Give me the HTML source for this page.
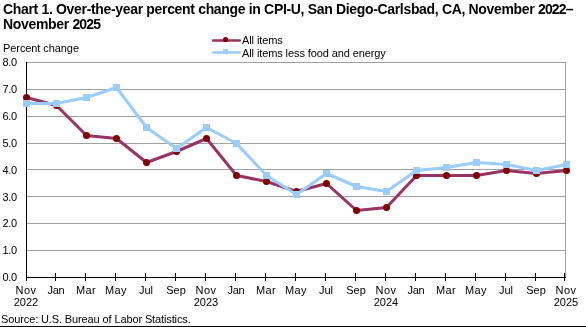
<!DOCTYPE html>
<html><head><meta charset="utf-8"><style>
html,body{margin:0;padding:0;background:#fff;}
body{width:586px;height:327px;overflow:hidden;position:relative;font-family:"Liberation Sans",sans-serif;}
.t{position:absolute;left:3px;top:2px;font-weight:bold;font-size:14px;line-height:15px;color:#000;white-space:nowrap;letter-spacing:-0.33px;will-change:transform;}
span.d{letter-spacing:-0.85px;}
svg{position:absolute;left:0;top:0;will-change:transform;}
</style></head><body>
<svg width="586" height="327" viewBox="0 0 586 327" font-family="Liberation Sans, sans-serif">

<rect x="27" y="250" width="539" height="1" fill="#a0a0a0"/>
<rect x="27" y="223" width="539" height="1" fill="#a0a0a0"/>
<rect x="27" y="196" width="539" height="1" fill="#a0a0a0"/>
<rect x="27" y="169" width="539" height="1" fill="#a0a0a0"/>
<rect x="27" y="143" width="539" height="1" fill="#a0a0a0"/>
<rect x="27" y="116" width="539" height="1" fill="#a0a0a0"/>
<rect x="27" y="89" width="539" height="1" fill="#a0a0a0"/>
<rect x="27" y="62" width="539" height="1" fill="#a0a0a0"/>
<rect x="565" y="62" width="1" height="215" fill="#a0a0a0"/>
<rect x="26" y="62" width="1" height="219" fill="#000"/>
<rect x="26" y="277" width="540" height="1" fill="#000"/>
<rect x="26" y="273" width="1" height="8" fill="#000"/>
<rect x="55" y="273" width="1" height="8" fill="#000"/>
<rect x="85" y="273" width="1" height="8" fill="#000"/>
<rect x="115" y="273" width="1" height="8" fill="#000"/>
<rect x="145" y="273" width="1" height="8" fill="#000"/>
<rect x="175" y="273" width="1" height="8" fill="#000"/>
<rect x="205" y="273" width="1" height="8" fill="#000"/>
<rect x="235" y="273" width="1" height="8" fill="#000"/>
<rect x="265" y="273" width="1" height="8" fill="#000"/>
<rect x="295" y="273" width="1" height="8" fill="#000"/>
<rect x="325" y="273" width="1" height="8" fill="#000"/>
<rect x="355" y="273" width="1" height="8" fill="#000"/>
<rect x="385" y="273" width="1" height="8" fill="#000"/>
<rect x="415" y="273" width="1" height="8" fill="#000"/>
<rect x="445" y="273" width="1" height="8" fill="#000"/>
<rect x="475" y="273" width="1" height="8" fill="#000"/>
<rect x="505" y="273" width="1" height="8" fill="#000"/>
<rect x="535" y="273" width="1" height="8" fill="#000"/>
<rect x="564" y="273" width="1" height="8" fill="#000"/>
<text x="16.8" y="281.20" font-size="11" text-anchor="end" letter-spacing="-0.3">0.0</text>
<text x="16.8" y="254.32" font-size="11" text-anchor="end" letter-spacing="-0.3">1.0</text>
<text x="16.8" y="227.45" font-size="11" text-anchor="end" letter-spacing="-0.3">2.0</text>
<text x="16.8" y="200.57" font-size="11" text-anchor="end" letter-spacing="-0.3">3.0</text>
<text x="16.8" y="173.70" font-size="11" text-anchor="end" letter-spacing="-0.3">4.0</text>
<text x="16.8" y="146.82" font-size="11" text-anchor="end" letter-spacing="-0.3">5.0</text>
<text x="16.8" y="119.95" font-size="11" text-anchor="end" letter-spacing="-0.3">6.0</text>
<text x="16.8" y="93.08" font-size="11" text-anchor="end" letter-spacing="-0.3">7.0</text>
<text x="16.8" y="66.20" font-size="11" text-anchor="end" letter-spacing="-0.3">8.0</text>
<text x="26.0" y="293.8" font-size="11" text-anchor="middle" letter-spacing="0.4">Nov</text>
<text x="56.0" y="293.8" font-size="11" text-anchor="middle" letter-spacing="-0.3">Jan</text>
<text x="86.0" y="293.8" font-size="11" text-anchor="middle" letter-spacing="0.4">Mar</text>
<text x="116.0" y="293.8" font-size="11" text-anchor="middle" letter-spacing="0.4">May</text>
<text x="146.0" y="293.8" font-size="11" text-anchor="middle">Jul</text>
<text x="176.0" y="293.8" font-size="11" text-anchor="middle">Sep</text>
<text x="206.0" y="293.8" font-size="11" text-anchor="middle" letter-spacing="0.4">Nov</text>
<text x="236.0" y="293.8" font-size="11" text-anchor="middle" letter-spacing="-0.3">Jan</text>
<text x="266.0" y="293.8" font-size="11" text-anchor="middle" letter-spacing="0.4">Mar</text>
<text x="296.0" y="293.8" font-size="11" text-anchor="middle" letter-spacing="0.4">May</text>
<text x="326.0" y="293.8" font-size="11" text-anchor="middle">Jul</text>
<text x="356.0" y="293.8" font-size="11" text-anchor="middle">Sep</text>
<text x="386.0" y="293.8" font-size="11" text-anchor="middle" letter-spacing="0.4">Nov</text>
<text x="416.0" y="293.8" font-size="11" text-anchor="middle" letter-spacing="-0.3">Jan</text>
<text x="446.0" y="293.8" font-size="11" text-anchor="middle" letter-spacing="0.4">Mar</text>
<text x="476.0" y="293.8" font-size="11" text-anchor="middle" letter-spacing="0.4">May</text>
<text x="506.0" y="293.8" font-size="11" text-anchor="middle">Jul</text>
<text x="536.0" y="293.8" font-size="11" text-anchor="middle">Sep</text>
<text x="566.0" y="293.8" font-size="11" text-anchor="middle" letter-spacing="0.4">Nov</text>
<text x="26.0" y="305.6" font-size="11" text-anchor="middle">2022</text>
<text x="206.0" y="305.6" font-size="11" text-anchor="middle">2023</text>
<text x="386.0" y="305.6" font-size="11" text-anchor="middle">2024</text>
<text x="566.0" y="305.6" font-size="11" text-anchor="middle">2025</text>
<text x="3" y="52" font-size="11" letter-spacing="-0.08">Percent change</text>
<polyline points="26.50,97.50 56.50,105.50 86.50,135.50 116.50,138.50 146.50,162.50 176.50,151.50 206.50,138.50 236.50,175.50 266.50,181.50 296.50,191.50 326.50,183.50 356.50,210.50 386.50,207.50 416.50,175.50 446.50,175.50 476.50,175.50 506.50,170.50 536.50,173.50 566.50,170.50" fill="none" stroke="#993366" stroke-width="3" stroke-linejoin="round"/>
<circle cx="26.50" cy="97.50" r="3.5" fill="#800000"/>
<circle cx="56.50" cy="105.50" r="3.5" fill="#800000"/>
<circle cx="86.50" cy="135.50" r="3.5" fill="#800000"/>
<circle cx="116.50" cy="138.50" r="3.5" fill="#800000"/>
<circle cx="146.50" cy="162.50" r="3.5" fill="#800000"/>
<circle cx="176.50" cy="151.50" r="3.5" fill="#800000"/>
<circle cx="206.50" cy="138.50" r="3.5" fill="#800000"/>
<circle cx="236.50" cy="175.50" r="3.5" fill="#800000"/>
<circle cx="266.50" cy="181.50" r="3.5" fill="#800000"/>
<circle cx="296.50" cy="191.50" r="3.5" fill="#800000"/>
<circle cx="326.50" cy="183.50" r="3.5" fill="#800000"/>
<circle cx="356.50" cy="210.50" r="3.5" fill="#800000"/>
<circle cx="386.50" cy="207.50" r="3.5" fill="#800000"/>
<circle cx="416.50" cy="175.50" r="3.5" fill="#800000"/>
<circle cx="446.50" cy="175.50" r="3.5" fill="#800000"/>
<circle cx="476.50" cy="175.50" r="3.5" fill="#800000"/>
<circle cx="506.50" cy="170.50" r="3.5" fill="#800000"/>
<circle cx="536.50" cy="173.50" r="3.5" fill="#800000"/>
<circle cx="566.50" cy="170.50" r="3.5" fill="#800000"/>
<polyline points="26.50,103.50 56.50,103.50 86.50,97.50 116.50,87.50 146.50,127.50 176.50,148.50 206.50,127.50 236.50,143.50 266.50,175.50 296.50,194.50 326.50,173.50 356.50,186.50 386.50,191.50 416.50,170.50 446.50,167.50 476.50,162.50 506.50,164.50 536.50,170.50 566.50,164.50" fill="none" stroke="#99ccff" stroke-width="3" stroke-linejoin="round"/>
<rect x="23.00" y="100.00" width="7" height="7" fill="#99ccff"/>
<rect x="53.00" y="100.00" width="7" height="7" fill="#99ccff"/>
<rect x="83.00" y="94.00" width="7" height="7" fill="#99ccff"/>
<rect x="113.00" y="84.00" width="7" height="7" fill="#99ccff"/>
<rect x="143.00" y="124.00" width="7" height="7" fill="#99ccff"/>
<rect x="173.00" y="145.00" width="7" height="7" fill="#99ccff"/>
<rect x="203.00" y="124.00" width="7" height="7" fill="#99ccff"/>
<rect x="233.00" y="140.00" width="7" height="7" fill="#99ccff"/>
<rect x="263.00" y="172.00" width="7" height="7" fill="#99ccff"/>
<rect x="293.00" y="191.00" width="7" height="7" fill="#99ccff"/>
<rect x="323.00" y="170.00" width="7" height="7" fill="#99ccff"/>
<rect x="353.00" y="183.00" width="7" height="7" fill="#99ccff"/>
<rect x="383.00" y="188.00" width="7" height="7" fill="#99ccff"/>
<rect x="413.00" y="167.00" width="7" height="7" fill="#99ccff"/>
<rect x="443.00" y="164.00" width="7" height="7" fill="#99ccff"/>
<rect x="473.00" y="159.00" width="7" height="7" fill="#99ccff"/>
<rect x="503.00" y="161.00" width="7" height="7" fill="#99ccff"/>
<rect x="533.00" y="167.00" width="7" height="7" fill="#99ccff"/>
<rect x="563.00" y="161.00" width="7" height="7" fill="#99ccff"/>
<line x1="213.2" y1="40.45" x2="239.8" y2="40.45" stroke="#993366" stroke-width="2.6" stroke-linecap="round"/>
<circle cx="225.6" cy="39.5" r="2.6" fill="#800000"/>
<text x="242" y="43.6" font-size="11" letter-spacing="-0.1">All items</text>
<line x1="213.3" y1="52.5" x2="239.7" y2="52.5" stroke="#99ccff" stroke-width="2.7" stroke-linecap="round"/>
<rect x="223.1" y="48.9" width="4.8" height="4.8" fill="#99ccff"/>
<text x="242" y="56.9" font-size="11" letter-spacing="-0.1">All items less food and energy</text>
<text x="1" y="322.8" font-size="11" letter-spacing="-0.12">Source: U.S. Bureau of Labor Statistics.</text>
<rect x="0" y="326" width="586" height="1" fill="#000"/>
</svg>
<div class="t">Chart 1. Over-the-year percent change in CPI-U, San Diego-Carlsbad, CA, November <span class="d">2022</span>&ndash;<br>November <span class="d">2025</span></div>
</body></html>
